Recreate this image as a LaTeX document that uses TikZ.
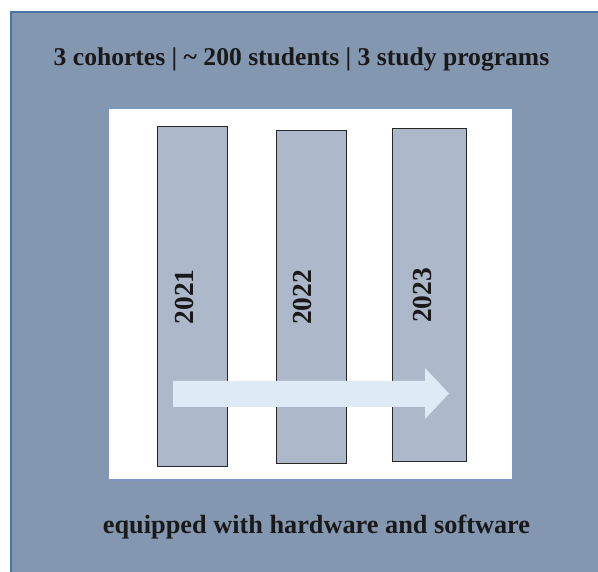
\documentclass[tikz,border=0pt]{standalone}
\usepackage{fontspec}
\setmainfont{Liberation Serif}
\definecolor{outerfill}{HTML}{8497B0}
\definecolor{outerline}{HTML}{4A73A8}
\definecolor{innerline}{HTML}{7C98C0}
\definecolor{barfill}{HTML}{ADB9CA}
\definecolor{arrowfill}{HTML}{DEEBF7}
\begin{document}
\begin{tikzpicture}[x=1pt,y=-1pt,
  outerbox/.style={draw=outerline, line width=2pt, fill=outerfill, rectangle, inner sep=0pt, outer sep=0pt},
  innerbox/.style={draw=innerline, line width=1.5pt, fill=white, rectangle, inner sep=0pt, outer sep=0pt},
  barbox/.style={draw=black!85, line width=1pt, fill=barfill, rectangle, inner sep=0pt, outer sep=0pt},
  bigtext/.style={font=\bfseries\fontsize{25.6}{30}\selectfont, text=black!90, inner sep=0pt},
  yeartext/.style={font=\bfseries\fontsize{27.5}{30}\selectfont, text=black!90, inner sep=0pt, rotate=90},
  flow/.style={fill=arrowfill, draw=none}]
\useasboundingbox (0,0) rectangle (598,572);
\fill[white] (0,0) rectangle (598,572);
\node[outerbox, minimum width=592pt, minimum height=564pt, anchor=north west] (outer) at (11,12) {};
\node[innerbox, minimum width=405pt, minimum height=372pt, anchor=north west] (inner) at (108,108) {};
\node[barbox, minimum width=70pt, minimum height=340pt, anchor=north west] (b1) at (157,127) {};
\node[barbox, minimum width=70pt, minimum height=333pt, anchor=north west] (b2) at (276,131) {};
\node[barbox, minimum width=74pt, minimum height=333pt, anchor=north west] (b3) at (392,129) {};
\node[yeartext] (y1) at (184,297) {2021};
\node[yeartext] (y2) at (302.5,297.5) {2022};
\node[yeartext] (y3) at (422,295.5) {2023};
\fill[flow] (173,381) -- (425,381) -- (425,368) -- (449,393.5) -- (425,419) -- (425,407) -- (173,407) -- cycle;
\node[bigtext, anchor=base] (title) at (301.5,66) {3 cohortes | \textasciitilde\ 200 students | 3 study programs};
\node[bigtext, font=\bfseries\fontsize{26.3}{30}\selectfont, anchor=base] (foot) at (316.5,533) {equipped with hardware and software};
\end{tikzpicture}
\end{document}
